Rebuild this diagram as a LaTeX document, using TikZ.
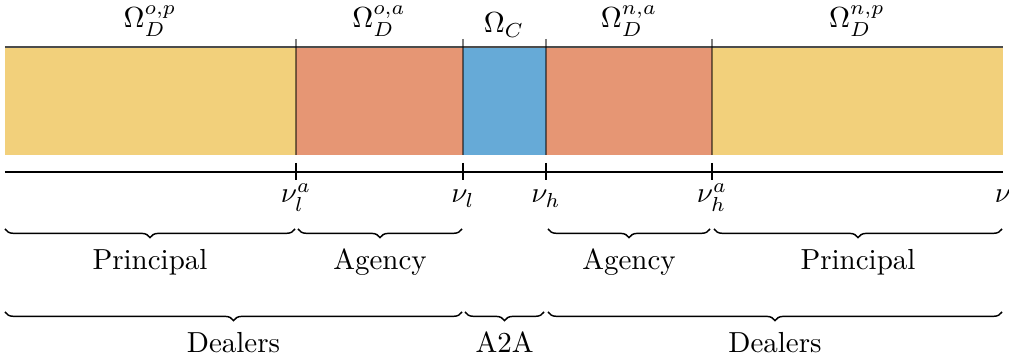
\documentclass[tikz,border=0pt]{standalone}
\usetikzlibrary{decorations.pathreplacing}
\definecolor{cyel}{RGB}{242,208,123}
\definecolor{corg}{RGB}{230,150,116}
\definecolor{cblu}{RGB}{102,170,215}
\begin{document}
\begin{tikzpicture}[x=0.3448pt,y=-0.3448pt,
  lbl/.style={anchor=base,inner sep=0pt},
  brc/.style={decorate,decoration={brace,mirror,amplitude=3pt},line width=0.5pt},
  divider/.style={draw=black,draw opacity=0.5,line width=0.4pt},
  topline/.style={draw=black!70,line width=0.4pt},
  axisline/.style={line width=0.7pt},
  tickmark/.style={line width=0.4pt}]
\useasboundingbox (0,0) rectangle (1009,362);
% regions
\fill[cyel] (5,47) rectangle (296,155);
\fill[corg] (296,47) rectangle (463,155);
\fill[cblu] (463,47) rectangle (546,155);
\fill[corg] (546,47) rectangle (712,155);
\fill[cyel] (712,47) rectangle (1003,155);
\draw[topline] (5,47) -- (1003,47);
\foreach \x in {296,463,546,712}{
  \draw[divider] (\x,39) -- (\x,155);
}
% axis
\coordinate (a0) at (5,172);
\coordinate (a1) at (1003,172);
\draw[axisline] (a0) -- (a1);
\foreach \x in {296,463,546,712}{
  \draw[tickmark] (\x,163) -- (\x,180);
}
% region labels
\node[lbl] (Oop) at (150,28) {$\Omega_D^{o,p}$};
\node[lbl] (Ooa) at (379,28) {$\Omega_D^{o,a}$};
\node[lbl] (OC)  at (504,33) {$\Omega_C$};
\node[lbl] (Ona) at (629,28) {$\Omega_D^{n,a}$};
\node[lbl] (Onp) at (857,28) {$\Omega_D^{n,p}$};
% axis labels
\node[lbl] (nla) at (296,203) {$\nu_l^a$};
\node[lbl] (nl)  at (463,203) {$\nu_l$};
\node[lbl] (nh)  at (546,203) {$\nu_h$};
\node[lbl] (nha) at (712,203) {$\nu_h^a$};
\node[lbl] (nu)  at (1003,203) {$\nu$};
% braces row 1
\draw[brc] (5,229) -- (295,229);
\draw[brc] (298,229) -- (462,229);
\draw[brc] (548,229) -- (710,229);
\draw[brc] (714,229) -- (1002,229);
\node[lbl] (p1) at (150,270) {Principal};
\node[lbl] (g1) at (380,270) {Agency};
\node[lbl] (g2) at (629,270) {Agency};
\node[lbl] (p2) at (858,270) {Principal};
% braces row 2
\draw[brc] (5,312) -- (462,312);
\draw[brc] (465,312) -- (544,312);
\draw[brc] (548,312) -- (1002,312);
\node[lbl] (d1) at (233.5,353) {Dealers};
\node[lbl] (aa) at (504.5,353) {A2A};
\node[lbl] (d2) at (775,353) {Dealers};
\end{tikzpicture}
\end{document}
